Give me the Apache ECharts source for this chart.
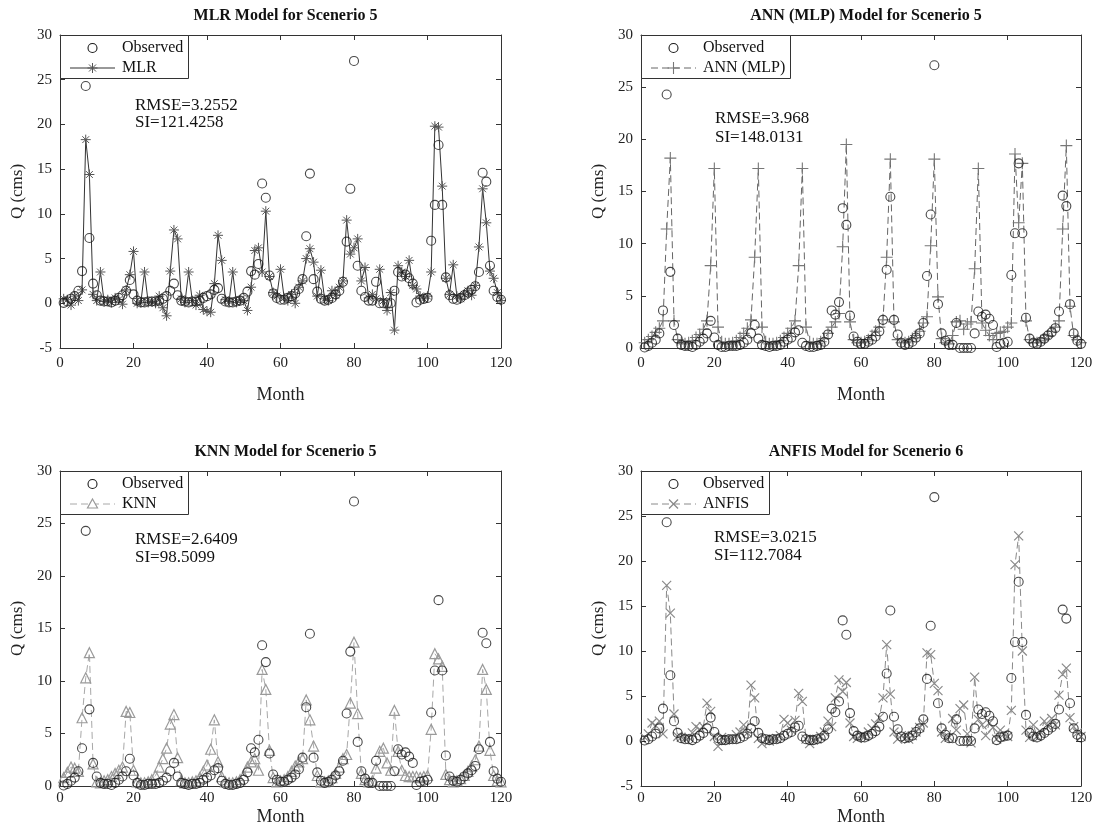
<!DOCTYPE html>
<html><head><meta charset="utf-8">
<script src="https://cdn.jsdelivr.net/npm/echarts@6/dist/echarts.min.js"></script>
<style>html,body{margin:0;padding:0;background:#fff}#c{width:1097px;height:838px}</style>
</head><body><div id="c"></div>
<script>
// ---------------- data ----------------
const observed = [
 0.05,0.2,0.5,0.8,1.4,3.6,24.3,7.3,2.2,0.9,0.3,0.2,
 0.2,0.1,0.3,0.6,0.9,1.4,2.6,1.0,0.3,0.1,0.1,0.2,
 0.2,0.2,0.3,0.5,0.8,1.4,2.2,0.9,0.3,0.2,0.1,0.2,
 0.2,0.3,0.6,0.8,1.0,1.5,1.7,0.5,0.2,0.1,0.1,0.2,
 0.3,0.6,1.3,3.6,3.2,4.4,13.4,11.8,3.1,1.1,0.6,0.4,
 0.4,0.6,0.8,1.1,1.6,2.7,7.5,14.5,2.7,1.3,0.5,0.3,
 0.4,0.6,1.0,1.4,2.4,6.9,12.8,27.1,4.2,1.4,0.7,0.3,
 0.3,2.4,0.0,0.0,0.0,0.0,1.4,3.5,3.0,3.2,2.8,2.2,
 0.1,0.4,0.5,0.6,7.0,11.0,17.7,11.0,2.9,0.9,0.5,0.4,
 0.6,0.9,1.2,1.5,1.9,3.5,14.6,13.6,4.2,1.4,0.7,0.4
];
const mlr = [
 0.5,0.4,-0.2,0.8,0.3,1.5,18.3,14.4,1.0,0.3,3.5,0.2,
 0.4,0.1,0.6,0.4,-0.1,1.5,3.2,5.8,0.0,0.1,3.5,0.1,
 0.2,0.0,0.8,-0.5,-1.4,3.6,8.2,7.2,0.5,0.1,3.5,0.3,
 -0.2,0.9,-0.7,-0.9,-1.0,2.2,7.6,4.8,0.4,0.2,3.5,0.1,
 0.4,0.3,-0.8,1.8,5.9,6.2,3.5,10.3,3.0,1.2,0.8,3.8,
 0.6,0.3,1.0,0.0,1.8,2.5,5.0,6.1,4.6,0.8,3.7,0.5,
 0.3,1.4,0.9,1.8,2.5,9.3,5.5,6.2,7.2,2.5,4.0,0.6,
 1.0,0.5,3.8,0.3,-0.8,1.2,-3.0,4.2,3.5,3.0,4.8,2.0,
 1.6,0.8,0.5,0.8,3.5,19.8,19.7,13.1,2.8,1.0,4.3,0.8,
 0.5,1.0,1.4,0.9,2.0,6.3,12.8,9.0,3.6,2.8,1.2,0.3
];
const ann = [
 0.5,0.8,1.1,1.5,1.9,2.6,11.4,18.2,2.6,0.8,0.5,0.4,
 0.5,0.7,1.0,1.3,1.8,2.6,7.9,17.2,2.0,0.6,0.4,0.4,
 0.5,0.7,1.0,1.4,1.9,2.7,8.7,17.2,2.0,0.6,0.4,0.4,
 0.5,0.7,1.0,1.4,1.9,2.6,7.9,17.2,2.0,0.6,0.4,0.4,
 0.6,0.9,1.4,2.0,2.5,3.3,9.7,19.5,2.5,0.8,0.5,0.5,
 0.6,0.8,1.2,1.6,2.0,2.7,8.7,18.1,2.5,0.8,0.5,0.5,
 0.6,0.9,1.2,1.6,2.4,3.0,9.8,18.1,4.9,0.9,0.5,0.4,
 1.2,2.5,2.6,1.8,2.3,2.5,7.6,17.2,2.4,1.7,1.2,0.8,
 1.4,1.5,1.6,2.0,2.4,18.6,12.0,17.7,2.6,0.8,0.5,0.5,
 0.7,0.9,1.2,1.6,2.0,2.6,11.4,19.4,4.0,1.2,0.8,0.5
];
const knn = [
 0.8,1.3,1.8,1.7,1.4,6.5,10.3,12.7,2.1,0.4,0.3,0.5,
 0.6,0.9,1.2,1.5,1.8,7.1,7.0,1.5,0.4,0.3,0.3,0.4,
 0.6,1.0,1.8,2.6,3.6,5.9,6.8,2.7,0.5,0.3,0.3,0.4,
 0.5,0.8,1.4,2.0,3.5,6.3,2.3,0.9,0.4,0.3,0.3,0.4,
 0.6,1.0,1.8,2.3,2.6,1.5,11.1,9.2,3.4,0.8,0.4,0.5,
 0.6,0.9,1.4,1.9,2.3,2.6,8.2,6.3,3.8,1.0,0.4,0.4,
 0.5,0.8,1.2,1.8,2.6,3.0,7.9,13.7,6.9,1.2,0.6,0.4,
 0.5,1.7,3.3,3.6,2.2,1.5,7.2,3.3,1.5,1.0,0.9,0.9,
 0.9,0.8,0.9,1.0,5.4,12.6,12.1,11.4,1.1,0.6,0.4,0.5,
 0.7,1.0,1.4,1.9,2.5,3.8,11.1,9.2,3.4,1.0,0.5,0.4
];
const anfis = [
 0.4,0.8,2.0,1.7,2.2,0.8,17.3,14.2,3.0,0.5,0.4,0.3,
 0.4,0.9,1.6,1.3,1.6,4.2,3.3,0.5,-0.6,0.4,0.1,0.2,
 0.2,0.7,1.0,1.8,0.9,6.2,4.8,0.3,-0.3,0.2,0.0,0.2,
 0.3,0.6,2.4,2.0,1.2,2.3,5.3,4.4,0.2,-0.3,0.1,0.2,
 0.5,1.0,2.2,1.6,4.8,6.8,5.5,6.5,2.0,0.5,0.3,0.6,
 0.5,1.0,1.4,1.9,2.6,4.8,10.7,5.2,1.0,0.2,0.6,0.3,
 0.2,0.6,1.0,1.5,2.0,9.8,9.6,6.4,5.6,1.0,0.3,0.4,
 2.5,1.2,3.6,4.0,0.8,-0.2,7.1,2.4,1.8,0.6,2.0,1.5,
 0.2,1.2,0.8,0.5,3.4,19.6,22.8,10.0,1.2,0.4,1.8,0.5,
 1.0,2.2,1.6,2.5,1.8,5.1,7.4,8.1,2.6,1.6,0.9,0.5
];
const months = observed.map((_, i) => i + 1);
const panelTitles = ['MLR Model for Scenerio 5','ANN (MLP) Model for Scenerio 5','KNN Model for Scenerio 5','ANFIS Model for Scenerio 6'];
const modelNames = ['MLR','ANN (MLP)','KNN','ANFIS'];
const modelData = [mlr, ann, knn, anfis];
const rmseText = ['RMSE=3.2552','RMSE=3.968','RMSE=2.6409','RMSE=3.0215'];
const siText = ['SI=121.4258','SI=148.0131','SI=98.5099','SI=112.7084'];
const yMin = [-5, 0, 0, -5];
const yMax = 30;
const xMin = 0, xMax = 120;

// ---------------- layout / style ----------------
const FF = '"Liberation Serif","Times New Roman",serif';
const grids = [
  {left:60, top:35, width:441, height:313},
  {left:641, top:35, width:440, height:313},
  {left:60, top:471, width:441, height:315},
  {left:641, top:471, width:440, height:315}
];
const textPos = [[135,106,123],[715,119,138],[135,540,558],[714,538,556]];
const legendW = [128,149,128,128];
const xNameGap = [38,38,22,22];
const xLabelMargin = [8,8,5,5];
const styles = [
  {kind:'asterisk', symbol:'path://M5,0L5,10M0,5L10,5M1.6,1.6L8.4,8.4M8.4,1.6L1.6,8.4', size:10, color:'#555', line:'#333', type:'solid', dash:null, bw:1},
  {kind:'plus', symbol:'path://M5,0L5,10M0,5L10,5', size:12, color:'#777', line:'#666', type:[7,4], dash:[7,4], bw:1.1},
  {kind:'triangle', symbol:'triangle', size:10, color:'#9a9a9a', line:'#a8a8a8', type:[7,4], dash:[7,4], bw:1.2, fill:'rgba(255,255,255,0)'},
  {kind:'cross', symbol:'path://M0,0L10,10M10,0L0,10', size:9, color:'#8a8a8a', line:'#8a8a8a', type:[7,4], dash:[7,4], bw:1.2}
];

function seg(x1,y1,x2,y2,color,w,dash){
  return {type:'line', z:101, silent:true, shape:{x1,y1,x2,y2}, style:{stroke:color, lineWidth:w, lineDash:dash||null}};
}
function legendSymbol(kind, cx, cy, color, w){
  if (kind==='asterisk') {
    return [seg(cx,cy-5,cx,cy+5,color,w), seg(cx-5,cy,cx+5,cy,color,w),
            seg(cx-3.5,cy-3.5,cx+3.5,cy+3.5,color,w), seg(cx+3.5,cy-3.5,cx-3.5,cy+3.5,color,w)];
  }
  if (kind==='plus') return [seg(cx,cy-6,cx,cy+6,color,w), seg(cx-6,cy,cx+6,cy,color,w)];
  if (kind==='cross') return [seg(cx-4.5,cy-4.5,cx+4.5,cy+4.5,color,w), seg(cx+4.5,cy-4.5,cx-4.5,cy+4.5,color,w)];
  return [{type:'polygon', z:101, silent:true, shape:{points:[[cx,cy-5],[cx+5,cy+4],[cx-5,cy+4]]},
           style:{fill:'#fff', stroke:color, lineWidth:w}}];
}

const xAxes = [], yAxes = [], series = [], titles = [], graphics = [];
for (let i = 0; i < 4; i++) {
  const g = grids[i];
  const axLine = {onZero:false, lineStyle:{color:'#333', width:1}};
  const tick = {inside:true, length:5, lineStyle:{color:'#333', width:1}};
  xAxes.push({type:'value', gridIndex:i, min:xMin, max:xMax, interval:20, position:'bottom',
    axisLine:axLine, axisTick:tick, splitLine:{show:false},
    axisLabel:{fontFamily:FF, fontSize:15, color:'#222', margin:xLabelMargin[i]},
    name:'Month', nameLocation:'middle', nameGap:xNameGap[i],
    nameTextStyle:{fontFamily:FF, fontSize:18, color:'#222'}});
  yAxes.push({type:'value', gridIndex:i, min:yMin[i], max:yMax, interval:5, position:'left',
    axisLine:axLine, axisTick:tick, splitLine:{show:false},
    axisLabel:{fontFamily:FF, fontSize:15, color:'#222', margin:8},
    name:'Q (cms)', nameLocation:'middle', nameGap:34, nameRotate:90,
    nameTextStyle:{fontFamily:FF, fontSize:17, color:'#222'}});
  titles.push({text:panelTitles[i], left:g.left + g.width/2, top:g.top - 32, textAlign:'center',
    textStyle:{fontFamily:FF, fontSize:16, fontWeight:'bold', color:'#111'}});
  const st = styles[i];
  const md = modelData[i];
  series.push({type:'line', name:modelNames[i], xAxisIndex:i, yAxisIndex:i,
    data: months.map((m,k)=>[m, md[k]]),
    symbol:st.symbol, symbolSize:st.size, showSymbol:true, showAllSymbol:true,
    lineStyle:{color:st.line, width:1, type:st.type},
    itemStyle:{color: st.fill || st.color, borderColor:st.color, borderWidth:st.bw},
    emphasis:{disabled:true}, z:2});
  series.push({type:'scatter', name:'Observed', xAxisIndex:i, yAxisIndex:i,
    data: months.map((m,k)=>[m, observed[k]]),
    symbol:'circle', symbolSize:9,
    itemStyle:{color:'rgba(255,255,255,0)', borderColor:'#1a1a1a', borderWidth:1.1},
    emphasis:{disabled:true}, z:3});
  // custom legend box
  const L = g.left, T = g.top, W = legendW[i];
  graphics.push({type:'rect', z:100, silent:true, shape:{x:L+0.5, y:T+0.5, width:W, height:43},
    style:{fill:'#fff', stroke:'#333', lineWidth:1}});
  graphics.push({type:'circle', z:101, silent:true, shape:{cx:L+32.5, cy:T+13, r:4.5},
    style:{fill:'none', stroke:'#1a1a1a', lineWidth:1.1}});
  graphics.push({type:'text', z:101, silent:true, x:L+62, y:T+13,
    style:{text:'Observed', font:'16px ' + FF, fill:'#111', verticalAlign:'middle'}});
  graphics.push(seg(L+10, T+33, L+55, T+33, st.line, 1, st.dash));
  legendSymbol(st.kind, L+32.5, T+33, st.color, st.bw).forEach(e => graphics.push(e));
  graphics.push({type:'text', z:101, silent:true, x:L+62, y:T+33,
    style:{text:modelNames[i], font:'16px ' + FF, fill:'#111', verticalAlign:'middle'}});
  // statistics
  graphics.push({type:'text', z:50, silent:true, x:textPos[i][0], y:textPos[i][1],
    style:{text:rmseText[i], font:'17px ' + FF, fill:'#111', verticalAlign:'middle'}});
  graphics.push({type:'text', z:50, silent:true, x:textPos[i][0], y:textPos[i][2],
    style:{text:siText[i], font:'17px ' + FF, fill:'#111', verticalAlign:'middle'}});
}
// box axes (top / right)
for (let i = 0; i < 4; i++) {
  const tick = {inside:true, length:5, lineStyle:{color:'#333', width:1}};
  xAxes.push({type:'value', gridIndex:i, min:xMin, max:xMax, interval:20, position:'top',
    axisLine:{onZero:false, lineStyle:{color:'#333', width:1}}, axisTick:tick,
    axisLabel:{show:false}, splitLine:{show:false}});
  yAxes.push({type:'value', gridIndex:i, min:yMin[i], max:yMax, interval:5, position:'right',
    axisLine:{onZero:false, lineStyle:{color:'#333', width:1}}, axisTick:tick,
    axisLabel:{show:false}, splitLine:{show:false}});
}

const chart = echarts.init(document.getElementById('c'), null, {renderer:'canvas'});
chart.setOption({
  animation:false,
  backgroundColor:'#fff',
  title:titles,
  grid:grids,
  xAxis:xAxes,
  yAxis:yAxes,
  series:series,
  graphic:{elements:graphics}
});
</script></body></html>
